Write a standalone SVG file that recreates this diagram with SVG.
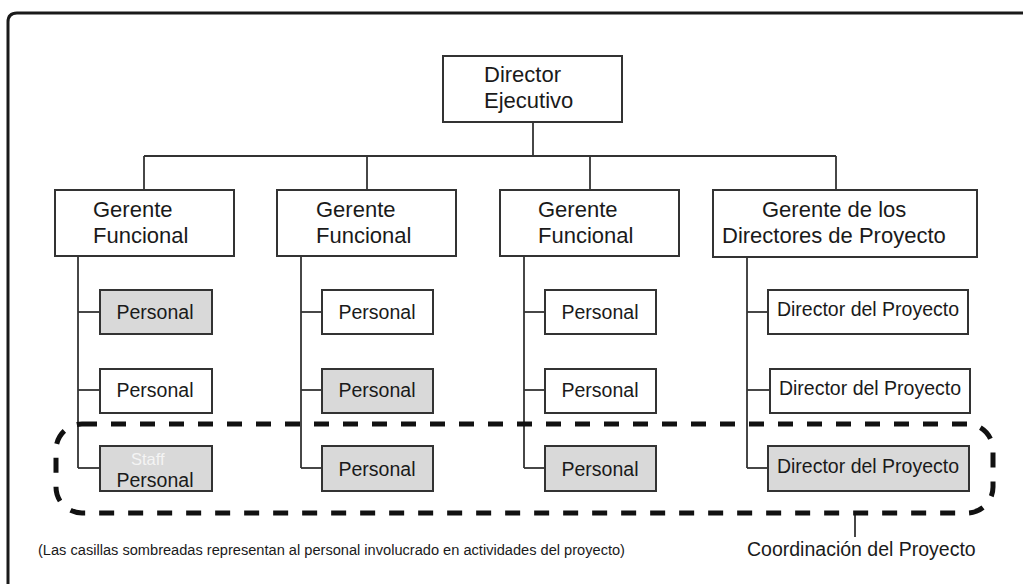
<svg xmlns="http://www.w3.org/2000/svg" width="1023" height="584" viewBox="0 0 1023 584">
  <style>
    .box { fill: #ffffff; stroke: #333333; stroke-width: 2; }
    .shaded { fill: #d9d9d9; stroke: #333333; stroke-width: 2; }
    .line { fill: none; stroke: #333333; stroke-width: 1.8; }
    .t { font-family: "Liberation Sans", Arial, sans-serif; fill: #1a1a1a; }
    .big { font-size: 22px; }
    .mid { font-size: 19.5px; }
    .mid-c { font-size: 19.5px; text-anchor: middle; }
  </style>

  <!-- page frame -->
  <path d="M 8 584 V 22 Q 8 13 17 13 H 1023" fill="none" stroke="#1a1a1a" stroke-width="3"/>

  <!-- connectors -->
  <g id="connectors" class="line">
    <line x1="533" y1="122" x2="533" y2="156"/>
    <line x1="144" y1="156" x2="836" y2="156"/>
    <line x1="144" y1="156" x2="144" y2="190"/>
    <line x1="367" y1="156" x2="367" y2="190"/>
    <line x1="590" y1="156" x2="590" y2="190"/>
    <line x1="836" y1="156" x2="836" y2="190"/>
    <!-- column 1 -->
    <line x1="78" y1="256" x2="78" y2="468"/>
    <line x1="78" y1="312" x2="100" y2="312"/>
    <line x1="78" y1="390" x2="100" y2="390"/>
    <line x1="78" y1="468" x2="100" y2="468"/>
    <!-- column 2 -->
    <line x1="301" y1="256" x2="301" y2="468"/>
    <line x1="301" y1="312" x2="322" y2="312"/>
    <line x1="301" y1="390" x2="322" y2="390"/>
    <line x1="301" y1="468" x2="322" y2="468"/>
    <!-- column 3 -->
    <line x1="524" y1="256" x2="524" y2="468"/>
    <line x1="524" y1="312" x2="545" y2="312"/>
    <line x1="524" y1="390" x2="545" y2="390"/>
    <line x1="524" y1="468" x2="545" y2="468"/>
    <!-- column 4 -->
    <line x1="747" y1="257" x2="747" y2="468"/>
    <line x1="747" y1="312" x2="768" y2="312"/>
    <line x1="747" y1="390" x2="770" y2="390"/>
    <line x1="747" y1="468" x2="768" y2="468"/>
    <!-- coordination tick -->
    <line x1="855" y1="513" x2="855" y2="537"/>
  </g>

  <!-- top -->
  <g id="director-ejecutivo">
    <rect class="box" x="443" y="56" width="179" height="66"/>
    <text class="t big" x="484" y="82">Director</text>
    <text class="t big" x="484" y="108">Ejecutivo</text>
  </g>

  <!-- managers -->
  <g id="gerente-1">
    <rect class="box" x="55" y="190" width="179" height="66"/>
    <text class="t big" x="93" y="217">Gerente</text>
    <text class="t big" x="93" y="243">Funcional</text>
  </g>
  <g id="gerente-2">
    <rect class="box" x="277" y="190" width="179" height="66"/>
    <text class="t big" x="316" y="217">Gerente</text>
    <text class="t big" x="316" y="243">Funcional</text>
  </g>
  <g id="gerente-3">
    <rect class="box" x="500" y="190" width="179" height="66"/>
    <text class="t big" x="538" y="217">Gerente</text>
    <text class="t big" x="538" y="243">Funcional</text>
  </g>
  <g id="gerente-pm">
    <rect class="box" x="713" y="190" width="264" height="67"/>
    <text class="t big" x="762" y="217">Gerente de los</text>
    <text class="t big" x="722" y="243">Directores de Proyecto</text>
  </g>

  <!-- column 1 staff -->
  <g id="c1-r1">
    <rect class="shaded" x="100" y="290" width="112" height="44"/>
    <text class="t mid-c" x="155" y="319">Personal</text>
  </g>
  <g id="c1-r2">
    <rect class="box" x="100" y="369" width="112" height="44"/>
    <text class="t mid-c" x="155" y="397">Personal</text>
  </g>
  <g id="c1-r3">
    <rect class="shaded" x="100" y="446" width="112" height="45"/>
    <text class="t" x="131" y="465" font-size="16.5" fill="#f4f4f4" style="fill:#f4f4f4">Staff</text>
    <text class="t mid-c" x="155" y="487">Personal</text>
  </g>

  <!-- column 2 staff -->
  <g id="c2-r1">
    <rect class="box" x="322" y="290" width="111" height="44"/>
    <text class="t mid-c" x="377" y="319">Personal</text>
  </g>
  <g id="c2-r2">
    <rect class="shaded" x="322" y="369" width="111" height="44"/>
    <text class="t mid-c" x="377" y="397">Personal</text>
  </g>
  <g id="c2-r3">
    <rect class="shaded" x="322" y="446" width="111" height="45"/>
    <text class="t mid-c" x="377" y="476">Personal</text>
  </g>

  <!-- column 3 staff -->
  <g id="c3-r1">
    <rect class="box" x="545" y="290" width="111" height="44"/>
    <text class="t mid-c" x="600" y="319">Personal</text>
  </g>
  <g id="c3-r2">
    <rect class="box" x="545" y="369" width="111" height="44"/>
    <text class="t mid-c" x="600" y="397">Personal</text>
  </g>
  <g id="c3-r3">
    <rect class="shaded" x="545" y="446" width="111" height="45"/>
    <text class="t mid-c" x="600" y="476">Personal</text>
  </g>

  <!-- column 4 project managers -->
  <g id="c4-r1">
    <rect class="box" x="768" y="290" width="200" height="44"/>
    <text class="t mid-c" x="868" y="316">Director del Proyecto</text>
  </g>
  <g id="c4-r2">
    <rect class="box" x="770" y="369" width="200" height="44"/>
    <text class="t mid-c" x="870" y="395">Director del Proyecto</text>
  </g>
  <g id="c4-r3">
    <rect class="shaded" x="768" y="446" width="201" height="45"/>
    <text class="t mid-c" x="868" y="473">Director del Proyecto</text>
  </g>

  <!-- project coordination boundary -->
  <g id="coordinacion">
    <rect x="56" y="424" width="937" height="89" rx="26" ry="26" fill="none" stroke="#111111" stroke-width="5" stroke-dasharray="15 14"/>
    <text class="t mid" x="747" y="556">Coordinación del Proyecto</text>
  </g>

  <!-- legend note -->
  <text class="t" x="38" y="555" font-size="14" textLength="587" lengthAdjust="spacingAndGlyphs">(Las casillas sombreadas representan al personal involucrado en actividades del proyecto)</text>
</svg>
